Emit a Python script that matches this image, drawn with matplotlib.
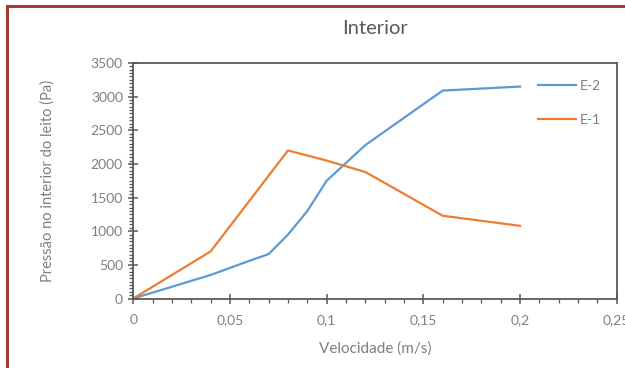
import matplotlib
matplotlib.use("Agg")
import matplotlib.pyplot as plt
from matplotlib.patches import Rectangle
from matplotlib.ticker import MultipleLocator, FuncFormatter

# Bed interior pressure vs. superficial velocity
vel_e2 = [0.0, 0.04, 0.06, 0.07, 0.08, 0.09, 0.10, 0.12, 0.16, 0.20]
p_e2 = [0, 350, 560, 660, 950, 1300, 1750, 2280, 3090, 3150]

vel_e1 = [0.0, 0.04, 0.06, 0.08, 0.10, 0.12, 0.16, 0.20]
p_e1 = [0, 700, 1450, 2200, 2050, 1880, 1230, 1080]

title = "Interior"
xlabel = "Velocidade (m/s)"
ylabel = "Pressão no interior do leito (Pa)"

plt.rcParams["font.family"] = ["Lato", "DejaVu Sans"]
axis_gray = "#595959"
text_gray = "#7f7f7f"

fig = plt.figure(figsize=(6.25, 3.68), dpi=100)
fig.patch.set_facecolor("white")

# dark red frame around the figure (open on right and bottom edges)
fig.add_artist(Rectangle((7 / 625, -0.1), 1.2, 1 - 6 / 368 + 0.1,
                         transform=fig.transFigure, fill=False,
                         edgecolor="#a33a34", linewidth=2.2))

ax = fig.add_axes([133.3 / 625, 1 - 298.5 / 368, (616.7 - 133.3) / 625, (298.5 - 63) / 368])

ax.plot(vel_e2, p_e2, color="#5b9bd5", linewidth=1.6, label="E-2")
ax.plot(vel_e1, p_e1, color="#ed7d31", linewidth=1.6, label="E-1")

ax.set_xlim(0, 0.25)
ax.set_ylim(0, 3500)
ax.xaxis.set_major_locator(MultipleLocator(0.05))
ax.xaxis.set_minor_locator(MultipleLocator(0.01))
ax.yaxis.set_major_locator(MultipleLocator(500))
ax.yaxis.set_minor_locator(MultipleLocator(50))


def comma_fmt(v, pos):
    s = f"{v:.2f}".rstrip("0").rstrip(".")
    return s.replace(".", ",")


ax.xaxis.set_major_formatter(FuncFormatter(comma_fmt))
ax.yaxis.set_major_formatter(FuncFormatter(lambda v, p: f"{int(round(v))}"))

for s in ax.spines.values():
    s.set_color(axis_gray)
    s.set_linewidth(1.3)

ax.tick_params(which="major", direction="inout", length=7, width=1.1,
               color=axis_gray, labelcolor=text_gray, labelsize=10, pad=4)
ax.tick_params(which="minor", direction="out", length=3, width=0.9, color=axis_gray)
ax.tick_params(axis="x", which="major", pad=8)

ax.set_title(title, color=axis_gray, fontsize=14.5, pad=21)
ax.set_xlabel(xlabel, color=text_gray, fontsize=11, labelpad=11)
ax.set_ylabel(ylabel, color=text_gray, fontsize=10.5, labelpad=26)

leg = ax.legend(loc="upper left", bbox_to_anchor=(538 / 625, 1 - 80 / 368),
                bbox_transform=fig.transFigure, frameon=False, fontsize=10,
                handlelength=2.7, handletextpad=0.3, labelspacing=1.55,
                borderpad=0, borderaxespad=0, labelcolor=text_gray)

fig.savefig("out.png", dpi=100, facecolor="white")
